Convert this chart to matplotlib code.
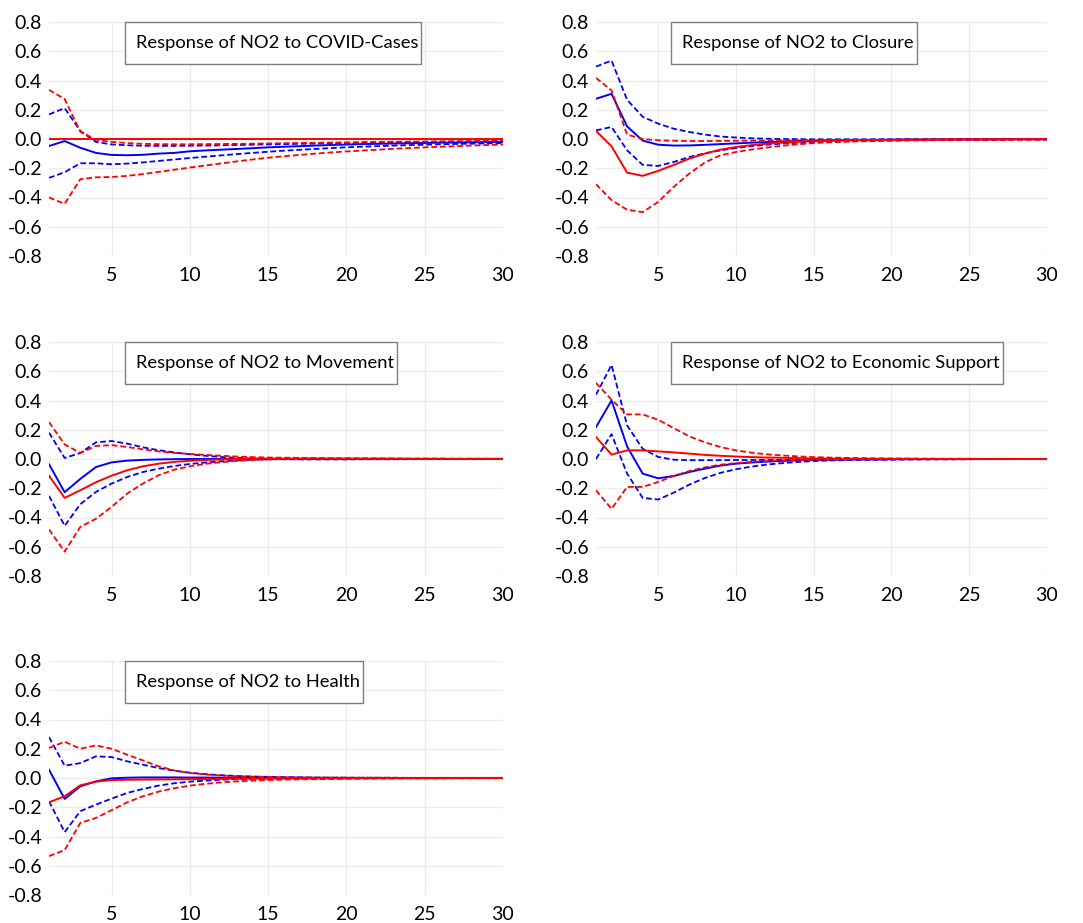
import matplotlib
matplotlib.use("Agg")
import matplotlib.pyplot as plt
from matplotlib.patches import Rectangle
import numpy as np

plt.rcParams['font.family'] = ['Lato', 'DejaVu Sans']

periods = list(range(1, 31))

titles = ["Response of NO2 to COVID-Cases", "Response of NO2 to Closure",
          "Response of NO2 to Movement", "Response of NO2 to Economic Support",
          "Response of NO2 to Health"]

y_ticks = [-0.8, -0.6, -0.4, -0.2, 0.0, 0.2, 0.4, 0.6, 0.8]
y_tick_labels = ["-0.8", "-0.6", "-0.4", "-0.2", "0.0", "0.2", "0.4", "0.6", "0.8"]
x_ticks = [5, 10, 15, 20, 25, 30]

# Panel 1: COVID-Cases
p1_blue = [-0.048,-0.014,-0.060,-0.095,-0.109,-0.111,-0.108,-0.100,-0.095,-0.084,-0.078,-0.073,-0.068,-0.063,-0.057,-0.053,-0.049,-0.045,-0.041,-0.038,-0.035,-0.033,-0.031,-0.029,-0.027,-0.025,-0.024,-0.022,-0.021,-0.020]
p1_blue_up = [0.168,0.211,0.055,-0.020,-0.037,-0.043,-0.046,-0.047,-0.047,-0.046,-0.045,-0.043,-0.041,-0.039,-0.037,-0.035,-0.033,-0.031,-0.029,-0.027,-0.025,-0.024,-0.022,-0.021,-0.020,-0.019,-0.018,-0.017,-0.016,-0.015]
p1_blue_lo = [-0.266,-0.227,-0.166,-0.166,-0.173,-0.168,-0.160,-0.150,-0.140,-0.130,-0.121,-0.112,-0.103,-0.095,-0.087,-0.080,-0.074,-0.068,-0.062,-0.057,-0.053,-0.049,-0.045,-0.042,-0.039,-0.036,-0.034,-0.032,-0.030,-0.028]
p1_red = [0.0]*30
p1_red_up = [0.336,0.273,0.050,-0.005,-0.020,-0.028,-0.033,-0.035,-0.036,-0.036,-0.035,-0.034,-0.033,-0.032,-0.030,-0.029,-0.027,-0.026,-0.024,-0.023,-0.021,-0.020,-0.019,-0.018,-0.017,-0.016,-0.015,-0.014,-0.013,-0.012]
p1_red_lo = [-0.400,-0.443,-0.275,-0.262,-0.260,-0.252,-0.240,-0.225,-0.210,-0.195,-0.181,-0.167,-0.153,-0.140,-0.128,-0.118,-0.109,-0.100,-0.092,-0.085,-0.079,-0.073,-0.067,-0.062,-0.057,-0.053,-0.049,-0.045,-0.041,-0.038]

# Panel 2: Closure
p2_blue = [0.275,0.309,0.086,-0.011,-0.039,-0.045,-0.044,-0.040,-0.035,-0.030,-0.025,-0.021,-0.017,-0.014,-0.012,-0.010,-0.008,-0.007,-0.006,-0.005,-0.004,-0.004,-0.003,-0.003,-0.002,-0.002,-0.002,-0.001,-0.001,-0.001]
p2_blue_up = [0.495,0.536,0.268,0.152,0.105,0.070,0.048,0.030,0.017,0.010,0.005,0.002,0.000,-0.001,-0.002,-0.002,-0.002,-0.002,-0.002,-0.002,-0.001,-0.001,-0.001,-0.001,-0.001,-0.001,-0.001,0.0,0.0,0.0]
p2_blue_lo = [0.059,0.082,-0.077,-0.177,-0.184,-0.157,-0.123,-0.098,-0.078,-0.062,-0.049,-0.039,-0.031,-0.025,-0.020,-0.017,-0.014,-0.012,-0.010,-0.009,-0.008,-0.007,-0.006,-0.005,-0.005,-0.004,-0.004,-0.003,-0.003,-0.003]
p2_red = [0.055,-0.050,-0.230,-0.252,-0.218,-0.177,-0.134,-0.100,-0.073,-0.055,-0.042,-0.032,-0.025,-0.019,-0.015,-0.012,-0.010,-0.008,-0.007,-0.006,-0.005,-0.004,-0.004,-0.003,-0.003,-0.002,-0.002,-0.002,-0.002,-0.001]
p2_red_up = [0.418,0.332,0.030,0.000,-0.009,-0.012,-0.014,-0.014,-0.013,-0.012,-0.011,-0.010,-0.009,-0.008,-0.007,-0.007,-0.006,-0.006,-0.005,-0.005,-0.004,-0.004,-0.004,-0.003,-0.003,-0.003,-0.003,-0.002,-0.002,-0.002]
p2_red_lo = [-0.309,-0.418,-0.484,-0.500,-0.430,-0.327,-0.236,-0.161,-0.111,-0.089,-0.072,-0.058,-0.046,-0.036,-0.028,-0.023,-0.019,-0.016,-0.014,-0.012,-0.010,-0.009,-0.008,-0.007,-0.006,-0.006,-0.005,-0.005,-0.004,-0.004]

# Panel 3: Movement
p3_blue = [-0.036,-0.227,-0.136,-0.055,-0.023,-0.011,-0.006,-0.003,-0.001,0.0,0.0,0.0,0.0,0.0,0.0,0.0,0.0,0.0,0.0,0.0,0.0,0.0,0.0,0.0,0.0,0.0,0.0,0.0,0.0,0.0]
p3_blue_up = [0.180,0.007,0.041,0.114,0.123,0.105,0.080,0.060,0.045,0.032,0.022,0.014,0.008,0.003,0.000,-0.002,-0.003,-0.003,-0.003,-0.003,-0.002,-0.002,-0.002,-0.001,-0.001,-0.001,-0.001,-0.001,0.0,0.0]
p3_blue_lo = [-0.252,-0.457,-0.309,-0.225,-0.168,-0.123,-0.089,-0.066,-0.048,-0.034,-0.024,-0.016,-0.010,-0.005,-0.002,0.000,0.001,0.001,0.001,0.001,0.001,0.001,0.001,0.001,0.0,0.0,0.0,0.0,0.0,0.0]
p3_red = [-0.114,-0.266,-0.214,-0.159,-0.114,-0.077,-0.050,-0.032,-0.020,-0.012,-0.007,-0.003,0.000,0.002,0.003,0.003,0.003,0.003,0.003,0.002,0.002,0.002,0.002,0.001,0.001,0.001,0.001,0.001,0.001,0.001]
p3_red_up = [0.252,0.100,0.041,0.089,0.095,0.082,0.066,0.052,0.042,0.035,0.028,0.022,0.017,0.013,0.010,0.009,0.008,0.007,0.006,0.005,0.005,0.004,0.004,0.003,0.003,0.003,0.002,0.002,0.002,0.002]
p3_red_lo = [-0.482,-0.634,-0.464,-0.409,-0.327,-0.236,-0.168,-0.111,-0.073,-0.050,-0.033,-0.022,-0.013,-0.007,-0.003,0.000,0.001,0.002,0.002,0.002,0.002,0.002,0.001,0.001,0.001,0.001,0.001,0.001,0.001,0.000]

# Panel 4: Economic Support
p4_blue = [0.218,0.400,0.086,-0.100,-0.132,-0.116,-0.089,-0.066,-0.045,-0.032,-0.024,-0.018,-0.013,-0.009,-0.006,-0.004,-0.003,-0.002,-0.002,-0.001,-0.001,0.0,0.0,0.0,0.0,0.0,0.0,0.0,0.0,0.0]
p4_blue_up = [0.440,0.643,0.230,0.070,0.014,-0.005,-0.008,-0.008,-0.008,-0.007,-0.007,-0.006,-0.006,-0.005,-0.005,-0.004,-0.004,-0.003,-0.003,-0.003,-0.002,-0.002,-0.002,-0.002,-0.001,-0.001,-0.001,-0.001,-0.001,-0.001]
p4_blue_lo = [0.000,0.170,-0.100,-0.266,-0.277,-0.230,-0.175,-0.130,-0.095,-0.070,-0.052,-0.038,-0.028,-0.020,-0.014,-0.010,-0.008,-0.006,-0.005,-0.004,-0.003,-0.003,-0.002,-0.002,-0.002,-0.001,-0.001,-0.001,-0.001,-0.001]
p4_red = [0.150,0.030,0.059,0.059,0.052,0.045,0.037,0.028,0.022,0.017,0.013,0.010,0.008,0.006,0.004,0.003,0.002,0.002,0.001,0.001,0.001,0.0,0.0,0.0,0.0,0.0,0.0,0.0,0.0,0.0]
p4_red_up = [0.520,0.405,0.305,0.305,0.268,0.211,0.155,0.114,0.082,0.059,0.043,0.032,0.024,0.018,0.013,0.010,0.008,0.006,0.005,0.004,0.003,0.003,0.002,0.002,0.002,0.001,0.001,0.001,0.001,0.001]
p4_red_lo = [-0.214,-0.341,-0.191,-0.191,-0.157,-0.116,-0.082,-0.057,-0.039,-0.028,-0.020,-0.014,-0.010,-0.007,-0.005,-0.004,-0.003,-0.002,-0.002,-0.001,-0.001,-0.001,-0.001,-0.001,-0.001,0.0,0.0,0.0,0.0,0.0]

# Panel 5: Health
p5_blue = [0.057,-0.143,-0.057,-0.023,-0.002,0.002,0.004,0.004,0.004,0.003,0.003,0.002,0.002,0.001,0.001,0.001,0.001,0.0,0.0,0.0,0.0,0.0,0.0,0.0,0.0,0.0,0.0,0.0,0.0,0.0]
p5_blue_up = [0.280,0.084,0.102,0.148,0.143,0.114,0.091,0.068,0.050,0.036,0.026,0.019,0.014,0.010,0.008,0.006,0.005,0.004,0.003,0.003,0.002,0.002,0.002,0.001,0.001,0.001,0.001,0.001,0.001,0.001]
p5_blue_lo = [-0.159,-0.370,-0.227,-0.182,-0.141,-0.102,-0.075,-0.052,-0.036,-0.025,-0.018,-0.012,-0.008,-0.005,-0.003,-0.002,-0.001,-0.001,-0.001,0.0,0.0,0.0,0.0,0.0,0.0,0.0,0.0,0.0,0.0,0.0]
p5_red = [-0.166,-0.125,-0.050,-0.025,-0.014,-0.012,-0.011,-0.010,-0.009,-0.008,-0.007,-0.006,-0.005,-0.004,-0.004,-0.003,-0.003,-0.002,-0.002,-0.002,-0.001,-0.001,-0.001,-0.001,-0.001,-0.001,0.0,0.0,0.0,0.0]
p5_red_up = [0.205,0.248,0.200,0.223,0.200,0.159,0.120,0.080,0.052,0.034,0.024,0.017,0.012,0.009,0.007,0.005,0.004,0.003,0.003,0.002,0.002,0.002,0.001,0.001,0.001,0.001,0.001,0.001,0.001,0.001]
p5_red_lo = [-0.534,-0.493,-0.307,-0.273,-0.220,-0.166,-0.125,-0.093,-0.070,-0.052,-0.040,-0.030,-0.023,-0.018,-0.014,-0.011,-0.009,-0.008,-0.007,-0.006,-0.005,-0.004,-0.004,-0.003,-0.003,-0.003,-0.002,-0.002,-0.002,-0.002]

panels = [
    (p1_blue, p1_blue_up, p1_blue_lo, p1_red, p1_red_up, p1_red_lo),
    (p2_blue, p2_blue_up, p2_blue_lo, p2_red, p2_red_up, p2_red_lo),
    (p3_blue, p3_blue_up, p3_blue_lo, p3_red, p3_red_up, p3_red_lo),
    (p4_blue, p4_blue_up, p4_blue_lo, p4_red, p4_red_up, p4_red_lo),
    (p5_blue, p5_blue_up, p5_blue_lo, p5_red, p5_red_up, p5_red_lo),
]

W, H = 1083, 923
fig = plt.figure(figsize=(W / 100, H / 100), dpi=100)

col_left = [49, 596]
col_width = [454, 451]
row_top = [22, 342, 661]
ax_h = 234

axes = []
for i in range(5):
    r, c = divmod(i, 2)
    l = col_left[c] / W
    b = 1 - (row_top[r] + ax_h) / H
    ax = fig.add_axes([l, b, col_width[c] / W, ax_h / H])
    axes.append(ax)

dash = (0, (3.2, 1.6))
for i, ax in enumerate(axes):
    bs, bu, bl, rs, ru, rl = panels[i]
    ax.plot(periods, bu, color='#0000FF', lw=1.3, linestyle=dash)
    ax.plot(periods, bl, color='#0000FF', lw=1.3, linestyle=dash)
    ax.plot(periods, bs, color='#0000FF', lw=1.4)
    ax.plot(periods, ru, color='#FF0000', lw=1.3, linestyle=dash)
    ax.plot(periods, rl, color='#FF0000', lw=1.3, linestyle=dash)
    ax.plot(periods, rs, color='#FF0000', lw=1.4)
    ax.set_xlim(1, 30)
    ax.set_ylim(-0.8, 0.8)
    ax.set_xticks(x_ticks)
    ax.set_yticks(y_ticks)
    ax.set_yticklabels(y_tick_labels)
    ax.grid(True, color='#EBEBEB', lw=0.9)
    ax.set_axisbelow(True)
    for s in ax.spines.values():
        s.set_visible(False)
    ax.tick_params(length=0, labelsize=14, colors='black', pad=5)
    ax.tick_params(axis='x', pad=8)
    ax.text(0.167 + 11 / col_width[i % 2], 1 - 21 / ax_h, titles[i],
            transform=ax.transAxes, ha='left', va='center', fontsize=13.2, zorder=10)

fig.canvas.draw()
renderer = fig.canvas.get_renderer()
for i, ax in enumerate(axes):
    t = ax.texts[0]
    bb = t.get_window_extent(renderer)
    axbb = ax.get_window_extent(renderer)
    x0 = axbb.x0 + 0.167 * col_width[i % 2]
    x1 = bb.x1 + 3
    y1 = axbb.y1
    y0 = y1 - 42
    rect = Rectangle((x0, y0), x1 - x0, y1 - y0, transform=None,
                     facecolor='white', edgecolor='#7F7F7F', lw=1.0,
                     zorder=9, clip_on=False)
    ax.add_patch(rect)

fig.savefig("out.png", dpi=100, facecolor='white')
